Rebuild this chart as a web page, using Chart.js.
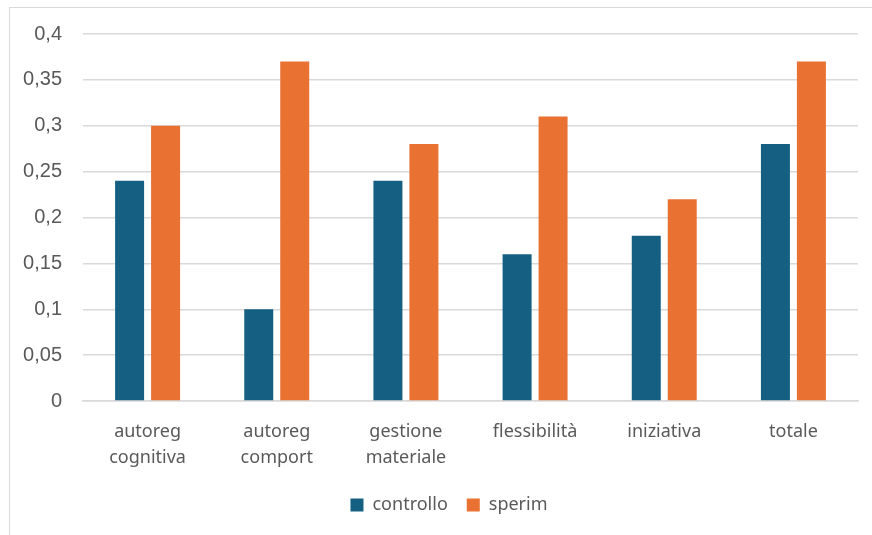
<!DOCTYPE html>
<html>
<head>
<meta charset="utf-8">
<script src="https://cdn.jsdelivr.net/npm/chart.js@4"></script>
<style>
  html, body { margin: 0; padding: 0; background: #fff; }
  #frame { position: absolute; left: 9px; top: 7px; width: 880px; height: 540px; border: 1.5px solid #d9d9d9; }
  #wrap { position: absolute; left: 0; top: 0; width: 872px; height: 535px; }
</style>
</head>
<body>
<div id="frame"></div>
<div id="wrap"><canvas id="myChart" width="872" height="535"></canvas></div>
<script>
const categories = [['autoreg', 'cognitiva'], ['autoreg', 'comport'], ['gestione', 'materiale'], 'flessibilità', 'iniziativa', 'totale']
const controllo = [0.24, 0.10, 0.24, 0.16, 0.18, 0.28]
const sperim = [0.30, 0.37, 0.28, 0.31, 0.22, 0.37]
const yTicks = [0, 0.05, 0.1, 0.15, 0.2, 0.25, 0.3, 0.35, 0.4]

const txt = '#595959'
const grid = '#d9d9d9'

function comma(v){
    return (Math.round(v * 100) / 100).toString().replace('.', ',')
}

// legend sits a bit right of centre in the original
const shiftLegend = {
    id: 'shiftLegend',
    afterLayout(chart){
        chart.legend.left += 20
        chart.legend.right += 20
    }
}

new Chart(document.getElementById('myChart'), {
    type: 'bar',
    data: {
        labels: categories,
        datasets: [
            { label: 'controllo', data: controllo, backgroundColor: '#156082', borderWidth: 0 },
            { label: 'sperim', data: sperim, backgroundColor: '#E97132', borderWidth: 0 }
        ]
    },
    plugins: [shiftLegend],
    options: {
        responsive: false,
        animation: false,
        categoryPercentage: 0.557,
        barPercentage: 0.806,
        layout: { padding: { left: 0, right: 14, top: 34, bottom: 11 } },
        scales: {
            x: {
                afterFit(scale){ scale.height = 76 },
                grid: { display: false },
                border: { color: grid, width: 1.5 },
                ticks: { color: txt, font: { family: 'Noto Sans', size: 18, lineHeight: 1.45 }, padding: 10, maxRotation: 0 }
            },
            y: {
                min: 0,
                max: 0.4,
                afterFit(scale){ scale.width = 83 },
                afterBuildTicks(scale){ scale.ticks = yTicks.map(v => ({ value: v })) },
                grid: { color: grid, lineWidth: 1.5, drawTicks: false },
                border: { display: false },
                ticks: { color: txt, font: { family: 'Liberation Sans', size: 20 }, padding: 21, callback: v => comma(v) }
            }
        },
        plugins: {
            legend: {
                position: 'bottom',
                labels: { color: txt, font: { family: 'Noto Sans', size: 18 }, boxWidth: 13, boxHeight: 13, padding: 19 }
            },
            tooltip: { enabled: false }
        }
    }
})
</script>
</body>
</html>
